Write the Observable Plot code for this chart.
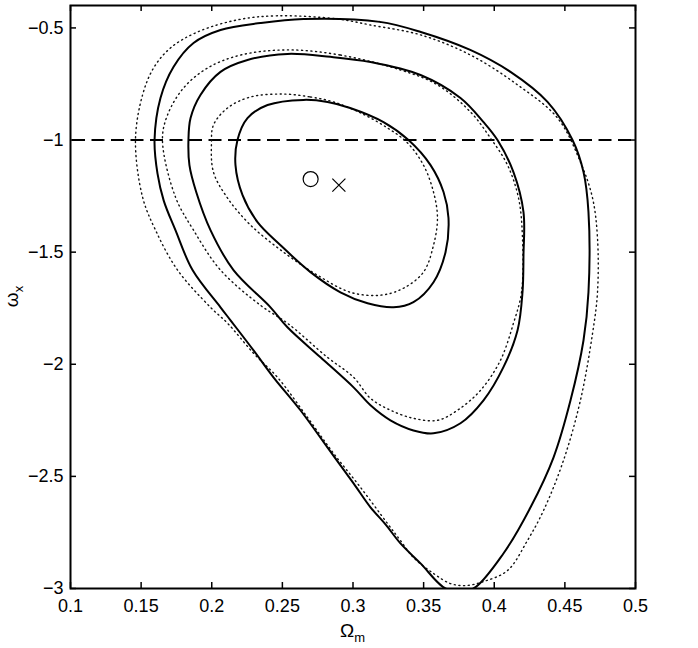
<!DOCTYPE html>
<html><head><meta charset="utf-8">
<script src="https://cdn.jsdelivr.net/npm/d3@7"></script>
<script src="https://cdn.jsdelivr.net/npm/@observablehq/plot@0.6"></script>
<style>body{margin:0;background:#fff;} #chart{width:698px;height:648px;}</style>
</head><body><div id="chart"></div>
<script>
// Confidence contours (Omega_m, w_x): solid = one data set, dotted = other
const solid1 = [[0.265,-0.821],[0.282,-0.830],[0.298,-0.857],[0.3216,-0.920],[0.3393,-1.0],[0.3549,-1.112],[0.3641,-1.232],[0.3676,-1.348],[0.3655,-1.5],[0.357,-1.634],[0.3428,-1.723],[0.3287,-1.746],[0.3103,-1.728],[0.2911,-1.679],[0.2699,-1.589],[0.2487,-1.469],[0.2324,-1.366],[0.2218,-1.246],[0.2168,-1.112],[0.2182,-1.0],[0.2253,-0.902],[0.2395,-0.844]];
const dotted1 = [[0.2508,-0.795],[0.2699,-0.808],[0.2862,-0.830],[0.3053,-0.879],[0.3244,-0.946],[0.3386,-1.013],[0.3499,-1.112],[0.357,-1.232],[0.3598,-1.348],[0.357,-1.469],[0.3499,-1.589],[0.3357,-1.661],[0.3195,-1.692],[0.2982,-1.679],[0.2749,-1.603],[0.2508,-1.5],[0.2274,-1.379],[0.2112,-1.259],[0.2012,-1.143],[0.1998,-1.013],[0.2012,-0.933],[0.2112,-0.857],[0.2274,-0.808]];
const solid2 = [[0.2536,-0.616],[0.284,-0.629],[0.3124,-0.652],[0.3478,-0.710],[0.3761,-0.8125],[0.3924,-0.92],[0.4023,-1.0],[0.4136,-1.143],[0.4207,-1.321],[0.4207,-1.513],[0.42,-1.679],[0.4165,-1.848],[0.4065,-2.013],[0.3924,-2.161],[0.3761,-2.263],[0.357,-2.308],[0.3428,-2.295],[0.3265,-2.25],[0.3124,-2.183],[0.3004,-2.103],[0.277,-1.969],[0.2536,-1.835],[0.2416,-1.746],[0.2154,-1.580],[0.1991,-1.402],[0.1890,-1.232],[0.1842,-1.112],[0.1835,-1.0],[0.185,-0.902],[0.192,-0.799],[0.2062,-0.696],[0.2253,-0.643]];
const dotted2 = [[0.2536,-0.598],[0.2911,-0.621],[0.3336,-0.6875],[0.3598,-0.754],[0.3832,-0.875],[0.3973,-0.991],[0.4094,-1.112],[0.4172,-1.259],[0.42,-1.4375],[0.4193,-1.679],[0.4136,-1.817],[0.4044,-1.982],[0.3903,-2.116],[0.374,-2.205],[0.3598,-2.25],[0.3428,-2.241],[0.3265,-2.205],[0.3124,-2.152],[0.3004,-2.058],[0.2819,-1.969],[0.2536,-1.817],[0.2345,-1.737],[0.2062,-1.580],[0.1871,-1.402],[0.1743,-1.254],[0.1651,-1.0],[0.1687,-0.888],[0.18,-0.768],[0.197,-0.679],[0.2204,-0.621]];
const solid3 = [[0.265,-0.460],[0.319,-0.473],[0.348,-0.518],[0.383,-0.598],[0.4115,-0.696],[0.4377,-0.830],[0.4554,-1.0],[0.4632,-1.143],[0.4667,-1.321],[0.4667,-1.679],[0.4632,-1.893],[0.454,-2.161],[0.442,-2.415],[0.4257,-2.638],[0.4065,-2.844],[0.3853,-3.0],[0.376,-3.005],[0.3655,-3.0],[0.3478,-2.888],[0.3336,-2.799],[0.3230,-2.714],[0.3124,-2.638],[0.3004,-2.531],[0.2819,-2.371],[0.2628,-2.205],[0.2437,-2.058],[0.2296,-1.938],[0.2133,-1.804],[0.2062,-1.746],[0.1864,-1.580],[0.1743,-1.402],[0.1660,-1.270],[0.1616,-1.150],[0.1595,-1.0],[0.1637,-0.8125],[0.1729,-0.674],[0.1871,-0.567],[0.2062,-0.509],[0.2345,-0.478]];
const dotted3 = [[0.2465,-0.446],[0.289,-0.460],[0.3124,-0.487],[0.3478,-0.531],[0.3832,-0.621],[0.4165,-0.754],[0.4448,-0.902],[0.461,-1.098],[0.4696,-1.259],[0.4731,-1.4375],[0.4731,-1.679],[0.4696,-1.862],[0.461,-2.161],[0.449,-2.429],[0.4349,-2.652],[0.4235,-2.786],[0.4094,-2.920],[0.3924,-2.969],[0.3796,-2.987],[0.369,-2.978],[0.357,-2.933],[0.3428,-2.862],[0.3336,-2.786],[0.3244,-2.710],[0.3053,-2.549],[0.2862,-2.397],[0.2678,-2.237],[0.2465,-2.058],[0.2296,-1.951],[0.2112,-1.817],[0.1991,-1.746],[0.1758,-1.580],[0.1602,-1.402],[0.151,-1.254],[0.146,-1.0],[0.151,-0.799],[0.1588,-0.679],[0.1708,-0.589],[0.19,-0.518],[0.2182,-0.464]];
const bestFit = [[0.27, -1.174]];
const fiducial = [[0.29, -1.201]];
const lambdaW = [-1];
const xTicks = [0.1, 0.15, 0.2, 0.25, 0.3, 0.35, 0.4, 0.45, 0.5];
const yTicks = [-0.5, -1, -1.5, -2, -2.5, -3];
const xDomain = [0.1, 0.5];
const yDomain = [-3, -0.4];

const W = 698, H = 648, mL = 70, mR = 63, mT = 5, mB = 60;
const innerW = W - mL - mR, innerH = H - mT - mB, tickLen = 6;
const font = "'Liberation Sans Narrow', 'Liberation Sans', Arial, sans-serif";
const fmt = d3.format("");
const px = d => d[0], py = d => d[1];

const solidOpts = {x: px, y: py, curve: "catmull-rom-closed", stroke: "#000", strokeWidth: 2, clip: true};
const dotOpts = {x: px, y: py, curve: "catmull-rom-closed", stroke: "#111", strokeWidth: 1.4, strokeDasharray: "1.1,3.6", clip: true};

const plot = Plot.plot({
  width: W, height: H, marginLeft: mL, marginRight: mR, marginTop: mT, marginBottom: mB,
  x: {domain: xDomain},
  y: {domain: yDomain},
  style: {fontFamily: font, background: "#fff", color: "#000"},
  marks: [
    Plot.ruleY(lambdaW, {stroke: "#000", strokeWidth: 2, strokeDasharray: "13,6.5", strokeDashoffset: -2}),
    Plot.line(dotted3, dotOpts),
    Plot.line(dotted2, dotOpts),
    Plot.line(dotted1, dotOpts),
    Plot.line(solid3, solidOpts),
    Plot.line(solid2, solidOpts),
    Plot.line(solid1, solidOpts),
    Plot.dot(bestFit, {x: px, y: py, r: 7.5, stroke: "#000", strokeWidth: 1.2}),
    Plot.dot(fiducial, {x: px, y: py, symbol: "times", r: 6, stroke: "#000", strokeWidth: 1.2}),
    Plot.tickX(xTicks, {x: d => d, insetTop: innerH - tickLen, stroke: "#000", strokeWidth: 1.5}),
    Plot.tickX(xTicks, {x: d => d, insetBottom: innerH - tickLen, stroke: "#000", strokeWidth: 1.5}),
    Plot.tickY(yTicks, {y: d => d, insetRight: innerW - tickLen, stroke: "#000", strokeWidth: 1.5}),
    Plot.tickY(yTicks, {y: d => d, insetLeft: innerW - tickLen, stroke: "#000", strokeWidth: 1.5}),
    Plot.axisX(xTicks, {tickSize: 0, tickPadding: 11, fontSize: 18, tickFormat: fmt, label: null}),
    Plot.axisY(yTicks, {tickSize: 0, tickPadding: 7, fontSize: 18, tickFormat: fmt, label: null}),
    Plot.frame({stroke: "#000", strokeWidth: 2})
  ]
});

const svg = d3.select(plot);
const xl = svg.append("text")
  .attr("x", mL + innerW / 2).attr("y", 637)
  .attr("text-anchor", "middle").attr("font-family", font).attr("font-size", 19).attr("fill", "#000");
xl.append("tspan").text("Ω");
xl.append("tspan").attr("font-size", 13).attr("dy", 5).text("m");

const yl = svg.append("text")
  .attr("transform", `translate(18, ${mT + innerH / 2}) rotate(-90)`)
  .attr("text-anchor", "middle").attr("font-family", font).attr("font-size", 19).attr("fill", "#000");
yl.append("tspan").text("ω");
yl.append("tspan").attr("font-size", 13).attr("dy", 5).text("x");

document.getElementById("chart").appendChild(plot);
</script>
</body></html>
